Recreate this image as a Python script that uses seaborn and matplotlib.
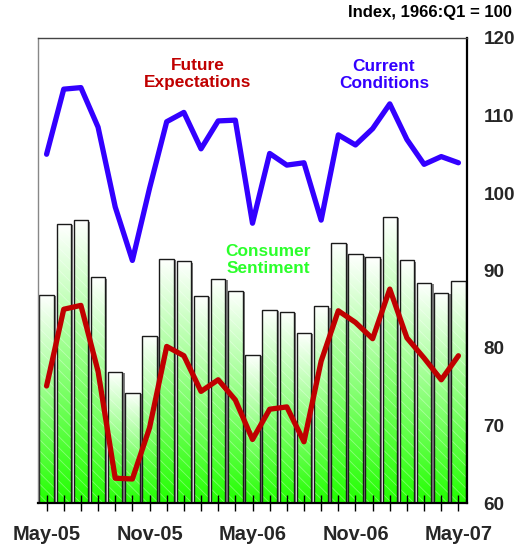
import numpy as np
import pandas as pd
import matplotlib
matplotlib.use("Agg")
import matplotlib.pyplot as plt
import seaborn as sns
from matplotlib.colors import LinearSegmentedColormap
from matplotlib.patches import Rectangle
from matplotlib import patheffects as pe

# Monthly readings, May 2005 - May 2007
months = ["May-05", "Jun-05", "Jul-05", "Aug-05", "Sep-05", "Oct-05", "Nov-05",
          "Dec-05", "Jan-06", "Feb-06", "Mar-06", "Apr-06", "May-06", "Jun-06",
          "Jul-06", "Aug-06", "Sep-06", "Oct-06", "Nov-06", "Dec-06", "Jan-07",
          "Feb-07", "Mar-07", "Apr-07", "May-07"]
sentiment = [86.9, 96.0, 96.5, 89.1, 76.9, 74.2, 81.6, 91.5, 91.2, 86.7, 88.9, 87.4,
             79.1, 84.9, 84.7, 82.0, 85.4, 93.6, 92.1, 91.7, 96.9, 91.3, 88.4, 87.1, 88.7]
future = [75.1, 85.0, 85.5, 77.0, 63.2, 63.1, 69.7, 80.2, 79.0, 74.4, 75.9, 73.3,
          68.2, 72.1, 72.4, 67.9, 78.3, 84.8, 83.3, 81.2, 87.6, 81.3, 78.7, 75.9, 79.0]
current = [105.0, 113.4, 113.6, 108.5, 98.2, 91.3, 100.6, 109.2, 110.4, 105.7, 109.3,
           109.4, 96.1, 105.1, 103.6, 103.9, 96.5, 107.5, 106.2, 108.3, 111.5, 106.9,
           103.7, 104.7, 103.9]
labelled_months = ["May-05", "Nov-05", "May-06", "Nov-06", "May-07"]
y_ticks = [60, 70, 80, 90, 100, 110, 120]

sns.set_theme(style="white")
plt.rcParams["font.family"] = ["Liberation Sans", "DejaVu Sans"]
plt.rcParams["font.weight"] = "bold"
plt.rcParams["hatch.linewidth"] = 0.6

df = pd.DataFrame({"month": months, "sentiment": sentiment,
                   "future": future, "current": current})

fig = plt.figure(figsize=(5.19, 5.46), dpi=100)
ax = fig.add_axes([38 / 519, 1 - 503 / 546, 429 / 519, 465 / 546])

sns.barplot(data=df, x="month", y="sentiment", ax=ax, width=0.84, color="white",
            saturation=1, linewidth=0, zorder=2)

ymin, ymax = y_ticks[0], y_ticks[-1]
green = LinearSegmentedColormap.from_list("sentiment_fill", ["#ffffff", "#22ff00"])
grad = np.linspace(0, 1, 256).reshape(-1, 1)

for bar in list(ax.patches):
    x0, w, top = bar.get_x(), bar.get_width(), bar.get_height()
    bar.set_path_effects([pe.SimplePatchShadow(offset=(1.6, -1.0),
                                               shadow_rgbFace=(0.45, 0.45, 0.45),
                                               alpha=0.9), pe.Normal()])
    im = ax.imshow(grad, cmap=green, extent=[x0, x0 + w, ymin, top], aspect="auto",
                   origin="upper", interpolation="bilinear", zorder=2.1)
    im.set_clip_path(bar)
    ax.add_patch(Rectangle((x0, ymin), w, top - ymin, fill=False, hatch="\\\\\\",
                           edgecolor=(1, 1, 1, 0.35), linewidth=0, zorder=2.2))
    ax.add_patch(Rectangle((x0, ymin - 5), w, top - ymin + 5, fill=False,
                           edgecolor="#1a1a1a", linewidth=1.0, zorder=2.3))

sns.lineplot(data=df, x="month", y="future", ax=ax, sort=False, errorbar=None,
             color="#c00000", linewidth=3.8, zorder=3)
sns.lineplot(data=df, x="month", y="current", ax=ax, sort=False, errorbar=None,
             color="#3300ff", linewidth=3.8, zorder=3.1)

ax.set_xlim(-0.5, len(months) - 0.5)
ax.set_ylim(ymin, ymax)
ax.set_xlabel("")
ax.set_ylabel("")
ax.set_axisbelow(False)

ax.set_xticks(range(len(months)))
ax.set_xticklabels([m if m in labelled_months else "" for m in months])
ax.tick_params(axis="x", direction="inout", length=11, width=1.0, color="black",
               pad=10.5, labelsize=14.4, bottom=True)
for lbl in ax.get_xticklabels():
    lbl.set_fontweight("bold")

ax.yaxis.tick_right()
ax.set_yticks(y_ticks)
ax.tick_params(axis="y", length=0, pad=12, labelsize=13.6, right=False, left=False)
for lbl in ax.get_yticklabels():
    lbl.set_fontweight("bold")

ax.spines["left"].set_color("#888888")
ax.spines["left"].set_linewidth(1.0)
ax.spines["top"].set_color("#444444")
ax.spines["top"].set_linewidth(1.0)
ax.spines["right"].set_color("black")
ax.spines["right"].set_linewidth(1.6)
ax.spines["bottom"].set_color("black")
ax.spines["bottom"].set_linewidth(1.6)
for s in ax.spines.values():
    s.set_visible(True)

ax.text(0.373, 0.9226, "Future\nExpectations", transform=ax.transAxes, ha="center",
        va="center", color="#c00000", fontsize=12.4, fontweight="bold", linespacing=1.15)
ax.text(0.8065, 0.920, "Current\nConditions", transform=ax.transAxes, ha="center",
        va="center", color="#3300ff", fontsize=12.4, fontweight="bold", linespacing=1.15)
ax.text(0.536, 0.5226, "Consumer\nSentiment", transform=ax.transAxes, ha="center",
        va="center", color="#2bff2b", fontsize=12.4, fontweight="bold", linespacing=1.15)

fig.text(512 / 519, 1 - 12.7 / 546, "Index, 1966:Q1 = 100", ha="right", va="center",
         fontsize=12.0, fontweight="bold", color="black")

fig.savefig("out.png", dpi=100)
